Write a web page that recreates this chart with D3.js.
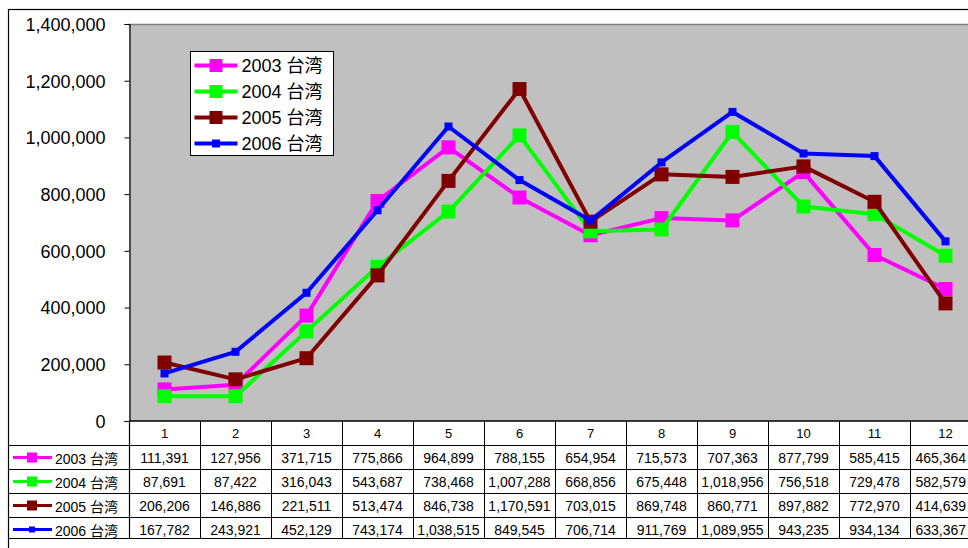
<!DOCTYPE html>
<html>
<head>
<meta charset="utf-8">
<script src="https://cdn.jsdelivr.net/npm/d3@7"></script>
<style>
  body { margin: 0; background: #fff; }
  text { font-family: "Liberation Sans", "Noto Sans CJK JP", sans-serif; fill: #000; }
</style>
</head>
<body>
<div id="chart"></div>
<script>
// categories (months)
var months = ["1","2","3","4","5","6","7","8","9","10","11","12"];
var seriesNames = ["2003 台湾","2004 台湾","2005 台湾","2006 台湾"];
var seriesColors = ["#ff00ff","#00ff00","#800000","#0000ff"];
var v2003 = [111391,127956,371715,775866,964899,788155,654954,715573,707363,877799,585415,465364];
var v2004 = [87691,87422,316043,543687,738468,1007288,668856,675448,1018956,756518,729478,582579];
var v2005 = [206206,146886,221511,513474,846738,1170591,703015,869748,860771,897882,772970,414639];
var v2006 = [167782,243921,452129,743174,1038515,849545,706714,911769,1089955,943235,934134,633367];
var yTicks = [0,200000,400000,600000,800000,1000000,1200000,1400000];

var seriesVals = [v2003, v2004, v2005, v2006];
var markerSize = [14, 14, 14, 8];
var keySize = [10, 10, 10, 6];

var width = 968, height = 548;
var plotLeft = 129, plotTop = 24, plotBottom = 421, plotRight = 981;
var rowH = [24, 24, 24, 24];
var rowTop = [445, 469, 493, 517];
var tableBottom = 538;

var svg = d3.select('#chart').append('svg')
  .attr('width', width)
  .attr('height', height);

var x = d3.scaleBand().domain(months).range([plotLeft, plotRight]);
var y = d3.scaleLinear().domain([0, 1400000]).range([plotBottom, plotTop]);
var fmt = d3.format(",");

//outer chart frame
svg.append('rect')
  .attr('x', 8.5).attr('y', 9.5)
  .attr('width', 1000).attr('height', 600)
  .attr('fill', '#fff').attr('stroke', '#000').attr('stroke-width', 1.2);

//plot area
svg.append('rect')
  .attr('x', plotLeft).attr('y', plotTop)
  .attr('width', plotRight - plotLeft).attr('height', plotBottom - plotTop)
  .attr('fill', '#c0c0c0');
svg.append('line')
  .attr('x1', plotLeft).attr('x2', plotRight)
  .attr('y1', plotTop + 0.5).attr('y2', plotTop + 0.5)
  .attr('stroke', '#808080').attr('stroke-width', 1.5);

//y axis
var yAxis = svg.append('g')
  .attr('transform', 'translate(' + (plotLeft + 0.5) + ',0)')
  .call(d3.axisLeft(y).tickValues(yTicks).tickFormat(fmt).tickSize(5).tickPadding(19));
yAxis.select('.domain').attr('stroke', '#000').attr('stroke-width', 1.2);
yAxis.selectAll('.tick line').attr('stroke', '#000');
yAxis.selectAll('text')
  .style('font-size', '18px')
  .attr('dy', '0.35em');

//series lines + markers
var line = d3.line()
  .x(function(d, i){ return x(months[i]) + x.bandwidth()/2; })
  .y(function(d){ return y(d); });

seriesVals.forEach(function(vals, s){
  var g = svg.append('g').attr('class', 'series');
  g.append('path')
    .datum(vals)
    .attr('d', line)
    .attr('fill', 'none')
    .attr('stroke', seriesColors[s])
    .attr('stroke-width', 4)
    .attr('stroke-linejoin', 'round');
  g.selectAll('rect')
    .data(vals)
    .enter().append('rect')
    .attr('x', function(d, i){ return x(months[i]) + x.bandwidth()/2 - markerSize[s]/2; })
    .attr('y', function(d){ return y(d) - markerSize[s]/2; })
    .attr('width', markerSize[s])
    .attr('height', markerSize[s])
    .attr('fill', seriesColors[s]);
});

//legend
var legend = svg.append('g').attr('transform', 'translate(190.5,51.5)');
legend.append('rect')
  .attr('width', 143).attr('height', 104)
  .attr('fill', '#fff').attr('stroke', '#000');
seriesNames.forEach(function(name, s){
  var ly = 14 + s * 26;
  legend.append('line')
    .attr('x1', 4).attr('x2', 47).attr('y1', ly).attr('y2', ly)
    .attr('stroke', seriesColors[s]).attr('stroke-width', 4);
  var ms = s === 3 ? 8 : 13;
  legend.append('rect')
    .attr('x', 25.5 - ms/2).attr('y', ly - ms/2)
    .attr('width', ms).attr('height', ms)
    .attr('fill', seriesColors[s]);
  legend.append('text')
    .attr('x', 51).attr('y', ly)
    .attr('dy', '0.36em')
    .style('font-size', '18px')
    .text(name);
});

//data table
var table = svg.append('g').attr('class', 'data-table');
table.append('line')
  .attr('x1', plotLeft).attr('x2', width).attr('y1', plotBottom).attr('y2', plotBottom)
  .attr('stroke', '#000').attr('stroke-width', 1.5);
rowTop.concat([tableBottom]).forEach(function(ry){
  table.append('line')
    .attr('x1', 9).attr('x2', width)
    .attr('y1', ry + 0.5).attr('y2', ry + 0.5)
    .attr('stroke', '#000');
});
table.append('line')
  .attr('x1', plotLeft + 0.5).attr('x2', plotLeft + 0.5)
  .attr('y1', plotBottom).attr('y2', tableBottom)
  .attr('stroke', '#000').attr('stroke-width', 1.2);
months.forEach(function(m){
  var bx = Math.round(x(m) + x.bandwidth()) + 0.5;
  table.append('line')
    .attr('x1', bx).attr('x2', bx)
    .attr('y1', plotBottom).attr('y2', tableBottom)
    .attr('stroke', '#000');
  table.append('text')
    .attr('x', x(m) + x.bandwidth()/2)
    .attr('y', 433)
    .attr('dy', '0.35em')
    .attr('text-anchor', 'middle')
    .style('font-size', '13px')
    .text(m);
});

seriesVals.forEach(function(vals, s){
  var cy = rowTop[s] + rowH[s]/2 + 0.5;
  table.append('line')
    .attr('x1', 13).attr('x2', 52).attr('y1', cy).attr('y2', cy)
    .attr('stroke', seriesColors[s]).attr('stroke-width', 3);
  table.append('rect')
    .attr('x', 32 - keySize[s]/2).attr('y', cy - keySize[s]/2)
    .attr('width', keySize[s]).attr('height', keySize[s])
    .attr('fill', seriesColors[s]);
  table.append('text')
    .attr('x', 55).attr('y', cy + 1)
    .attr('dy', '0.36em')
    .style('font-size', '14px')
    .text(seriesNames[s]);
  table.selectAll('.v' + s)
    .data(vals)
    .enter().append('text')
    .attr('class', 'v' + s)
    .attr('x', function(d, i){ return x(months[i]) + x.bandwidth()/2; })
    .attr('y', cy)
    .attr('dy', '0.36em')
    .attr('text-anchor', 'middle')
    .style('font-size', '14px')
    .text(function(d){ return fmt(d); })
    .each(function(){
      // keep the cut-off last column inside the visible frame
      var w = this.getComputedTextLength();
      var cx = +this.getAttribute('x');
      if(cx + w/2 > width - 2){
        this.setAttribute('x', width - 2 - w/2);
      }
    });
});
</script>
</body>
</html>
